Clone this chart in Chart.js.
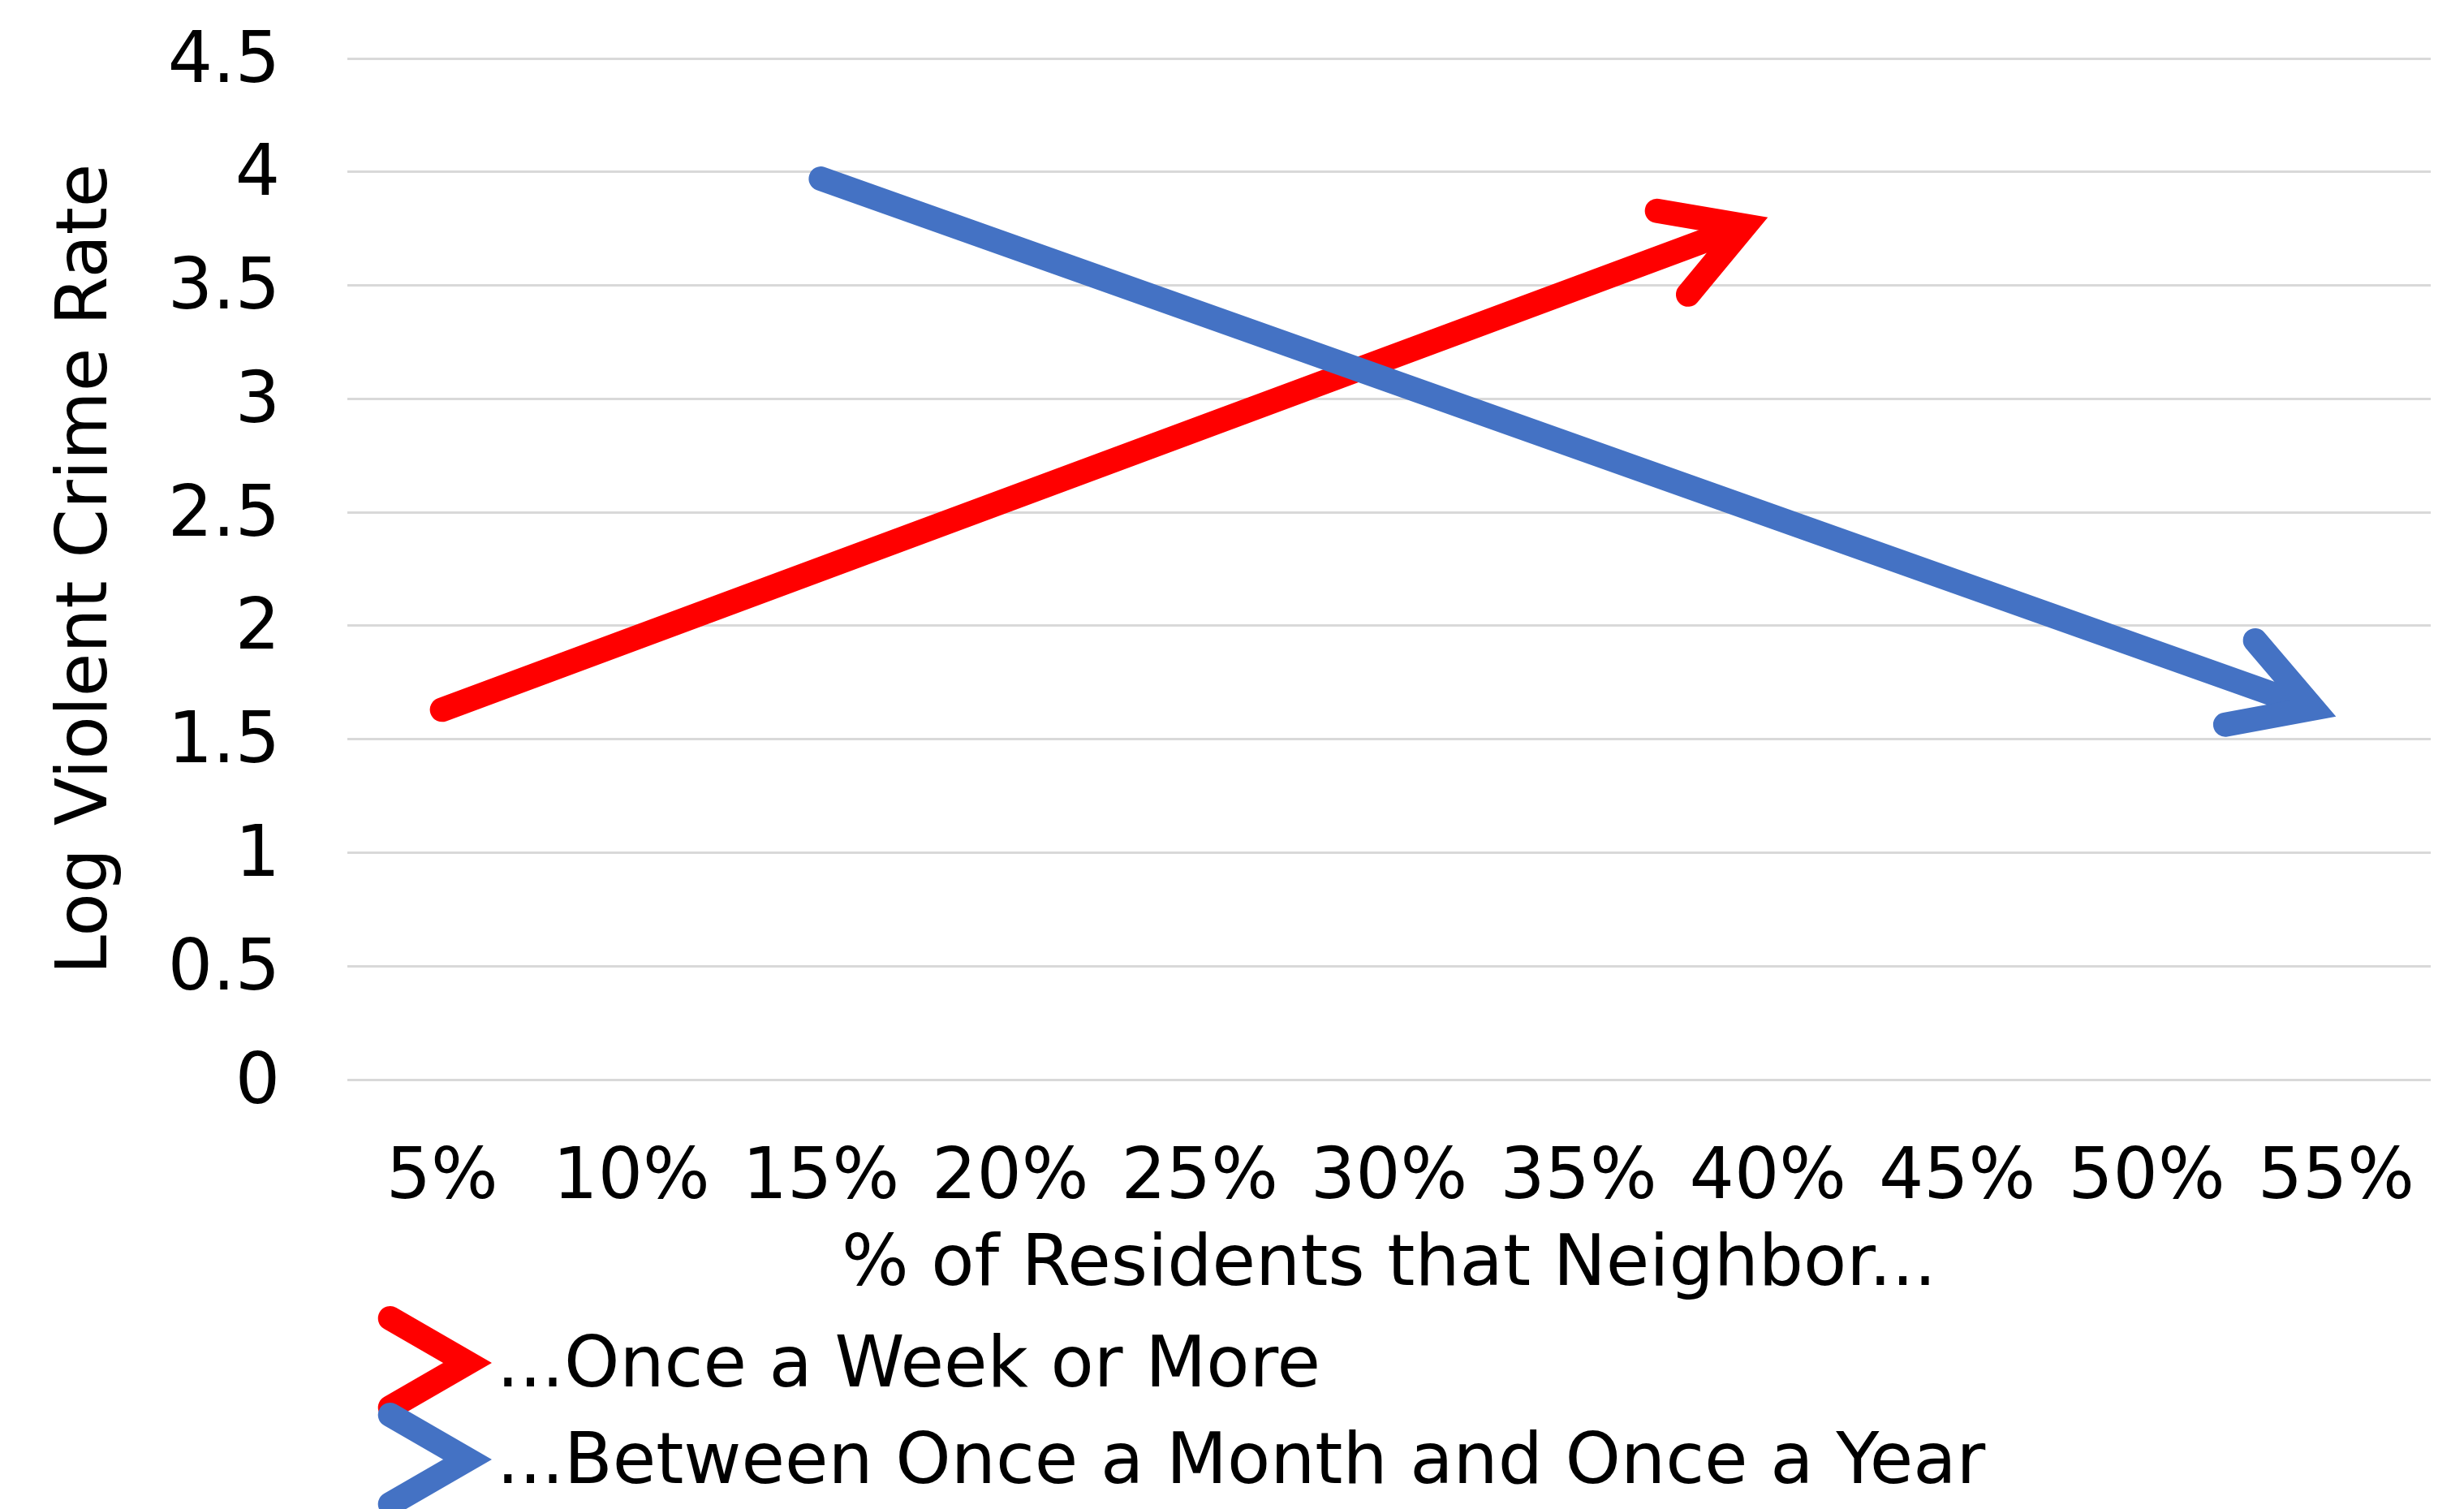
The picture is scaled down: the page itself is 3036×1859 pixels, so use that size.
<!DOCTYPE html>
<html lang="en">
<head>
<meta charset="UTF-8">
<title>Log Violent Crime Rate by Neighboring Frequency</title>
<script src="https://cdn.jsdelivr.net/npm/chart.js@4.4.1/dist/chart.umd.min.js"></script>
<style>
    html, body { margin: 0; padding: 0; background: #ffffff; }
    #crimeChart { display: block; }
</style>
</head>
<body>
<canvas id="crimeChart" width="3036" height="1859"></canvas>
<script>
// Chart data
const categories = ['5%', '10%', '15%', '20%', '25%', '30%', '35%', '40%', '45%', '50%', '55%'];
const yTickLabels = ['0', '0.5', '1', '1.5', '2', '2.5', '3', '3.5', '4', '4.5'];

// ...Once a Week or More
const weeklyX = ['5%', '40%'];
const weeklyY = [1.63, 3.80];

// ...Between Once a Month and Once a Year
const monthlyX = ['15%', '55%'];
const monthlyY = [3.97, 1.60];

const seriesLabels = ['...Once a Week or More', '...Between Once a Month and Once a Year'];
const seriesColors = ['#FF0000', '#4472C4'];

// Drawing settings
const FONT_FAMILY = "'DejaVu Sans', Verdana, sans-serif";
const FONT_SIZE = 87;
const LINE_WIDTH = 30;
const ARROW_ANGLE = Math.PI / 6;
const ARROW_ARM = 110;

// Geometry of an open arrowhead whose outer point sits on (tipX, tipY)
function arrowGeometry(tipX, tipY, ux, uy) {
    const back = (LINE_WIDTH / 2) / Math.sin(ARROW_ANGLE);
    const jx = tipX - ux * back;
    const jy = tipY - uy * back;
    const arms = [1, -1].map(function(side) {
        const c = Math.cos(ARROW_ANGLE);
        const s = Math.sin(ARROW_ANGLE) * side;
        const rx = ux * c - uy * s;
        const ry = ux * s + uy * c;
        return { x: jx - rx * ARROW_ARM, y: jy - ry * ARROW_ARM };
    });
    return { jx: jx, jy: jy, arms: arms };
}

function drawArrowHead(ctx, tipX, tipY, ux, uy, color) {
    const g = arrowGeometry(tipX, tipY, ux, uy);
    ctx.save();
    ctx.strokeStyle = color;
    ctx.lineWidth = LINE_WIDTH;
    ctx.lineCap = 'round';
    ctx.lineJoin = 'miter';
    ctx.miterLimit = 10;
    ctx.beginPath();
    ctx.moveTo(g.arms[0].x, g.arms[0].y);
    ctx.lineTo(g.jx, g.jy);
    ctx.lineTo(g.arms[1].x, g.arms[1].y);
    ctx.stroke();
    ctx.restore();
}

// Last point of a line and its direction
function lineEnd(chart, index) {
    const pts = chart.getDatasetMeta(index).data;
    const last = pts[pts.length - 1];
    const prev = pts[pts.length - 2];
    const dx = last.x - prev.x;
    const dy = last.y - prev.y;
    const len = Math.hypot(dx, dy) || 1;
    return { x: last.x, y: last.y, ux: dx / len, uy: dy / len };
}

// Arrowheads at the end of every line
const arrowPlugin = {
    id: 'lineArrows',
    beforeDatasetDraw(chart, args) {
        const end = lineEnd(chart, args.index);
        const ctx = chart.ctx;
        const back = (LINE_WIDTH / 2) / Math.sin(ARROW_ANGLE);
        const jx = end.x - end.ux * back;
        const jy = end.y - end.uy * back;
        const px = -end.uy * 120;
        const py = end.ux * 120;
        // cut the line off where the arrowhead begins
        ctx.save();
        ctx.beginPath();
        ctx.rect(0, 0, chart.width, chart.height);
        ctx.moveTo(jx + px, jy + py);
        ctx.lineTo(jx + px + end.ux * 120, jy + py + end.uy * 120);
        ctx.lineTo(jx - px + end.ux * 120, jy - py + end.uy * 120);
        ctx.lineTo(jx - px, jy - py);
        ctx.closePath();
        ctx.clip('evenodd');
    },
    afterDatasetDraw(chart, args) {
        chart.ctx.restore();
        const end = lineEnd(chart, args.index);
        const color = chart.data.datasets[args.index].borderColor;
        drawArrowHead(chart.ctx, end.x, end.y, end.ux, end.uy, color);
    }
};

// Legend with arrowhead symbols, stacked under the x axis title
const arrowLegendPlugin = {
    id: 'arrowLegend',
    afterDraw(chart) {
        const ctx = chart.ctx;
        chart.data.datasets.forEach(function(ds, i) {
            const rowY = 1679 + i * 119;
            drawArrowHead(ctx, 606, rowY, 1, 0, ds.borderColor);
            ctx.save();
            ctx.fillStyle = '#000000';
            ctx.font = FONT_SIZE + 'px ' + FONT_FAMILY;
            ctx.textAlign = 'left';
            ctx.textBaseline = 'middle';
            ctx.fillText(ds.label, 612, rowY + 6);
            ctx.restore();
        });
    }
};

function toPoints(xs, ys) {
    return xs.map(function(x, i) { return { x: x, y: ys[i] }; });
}

// Initialize chart
function initializeChart() {
    const ctx = document.getElementById('crimeChart').getContext('2d');

    Chart.defaults.font.family = FONT_FAMILY;
    Chart.defaults.font.size = FONT_SIZE;
    Chart.defaults.color = '#000000';

    const lineStyle = {
        borderWidth: LINE_WIDTH,
        borderCapStyle: 'round',
        borderJoinStyle: 'round',
        pointRadius: 0,
        pointHoverRadius: 0,
        tension: 0,
        fill: false
    };

    new Chart(ctx, {
        type: 'line',
        data: {
            labels: categories,
            datasets: [
                Object.assign({
                    label: seriesLabels[0],
                    data: toPoints(weeklyX, weeklyY),
                    borderColor: seriesColors[0],
                    backgroundColor: seriesColors[0],
                    order: 1
                }, lineStyle),
                Object.assign({
                    label: seriesLabels[1],
                    data: toPoints(monthlyX, monthlyY),
                    borderColor: seriesColors[1],
                    backgroundColor: seriesColors[1],
                    order: 0
                }, lineStyle)
            ]
        },
        options: {
            responsive: false,
            animation: false,
            devicePixelRatio: 1,
            layout: {
                padding: { top: 72, right: 41, bottom: 246, left: 0 }
            },
            plugins: {
                legend: { display: false },
                tooltip: { enabled: false }
            },
            scales: {
                x: {
                    type: 'category',
                    offset: true,
                    grid: { display: false, drawTicks: false },
                    border: { display: false },
                    ticks: {
                        padding: 71,
                        maxRotation: 0,
                        autoSkip: false
                    },
                    title: {
                        display: true,
                        text: '% of Residents that Neighbor...',
                        padding: 0
                    },
                    afterFit: function(scale) {
                        scale.height = 283;
                        scale.paddingLeft = 0;
                        scale.paddingRight = 0;
                    }
                },
                y: {
                    min: 0,
                    max: 4.5,
                    grid: {
                        color: '#d9d9d9',
                        lineWidth: 3,
                        drawTicks: false
                    },
                    border: { display: false },
                    ticks: {
                        stepSize: 0.5,
                        padding: 83,
                        labelOffset: 6,
                        callback: function(value, index) {
                            return yTickLabels[index];
                        }
                    },
                    title: {
                        display: true,
                        text: 'Log Violent Crime Rate',
                        padding: { top: 56, bottom: 0 }
                    },
                    afterFit: function(scale) {
                        scale.width = 428;
                        scale.paddingTop = 0;
                        scale.paddingBottom = 0;
                    }
                }
            }
        },
        plugins: [arrowPlugin, arrowLegendPlugin]
    });
}

document.addEventListener('DOMContentLoaded', initializeChart);
</script>
</body>
</html>
